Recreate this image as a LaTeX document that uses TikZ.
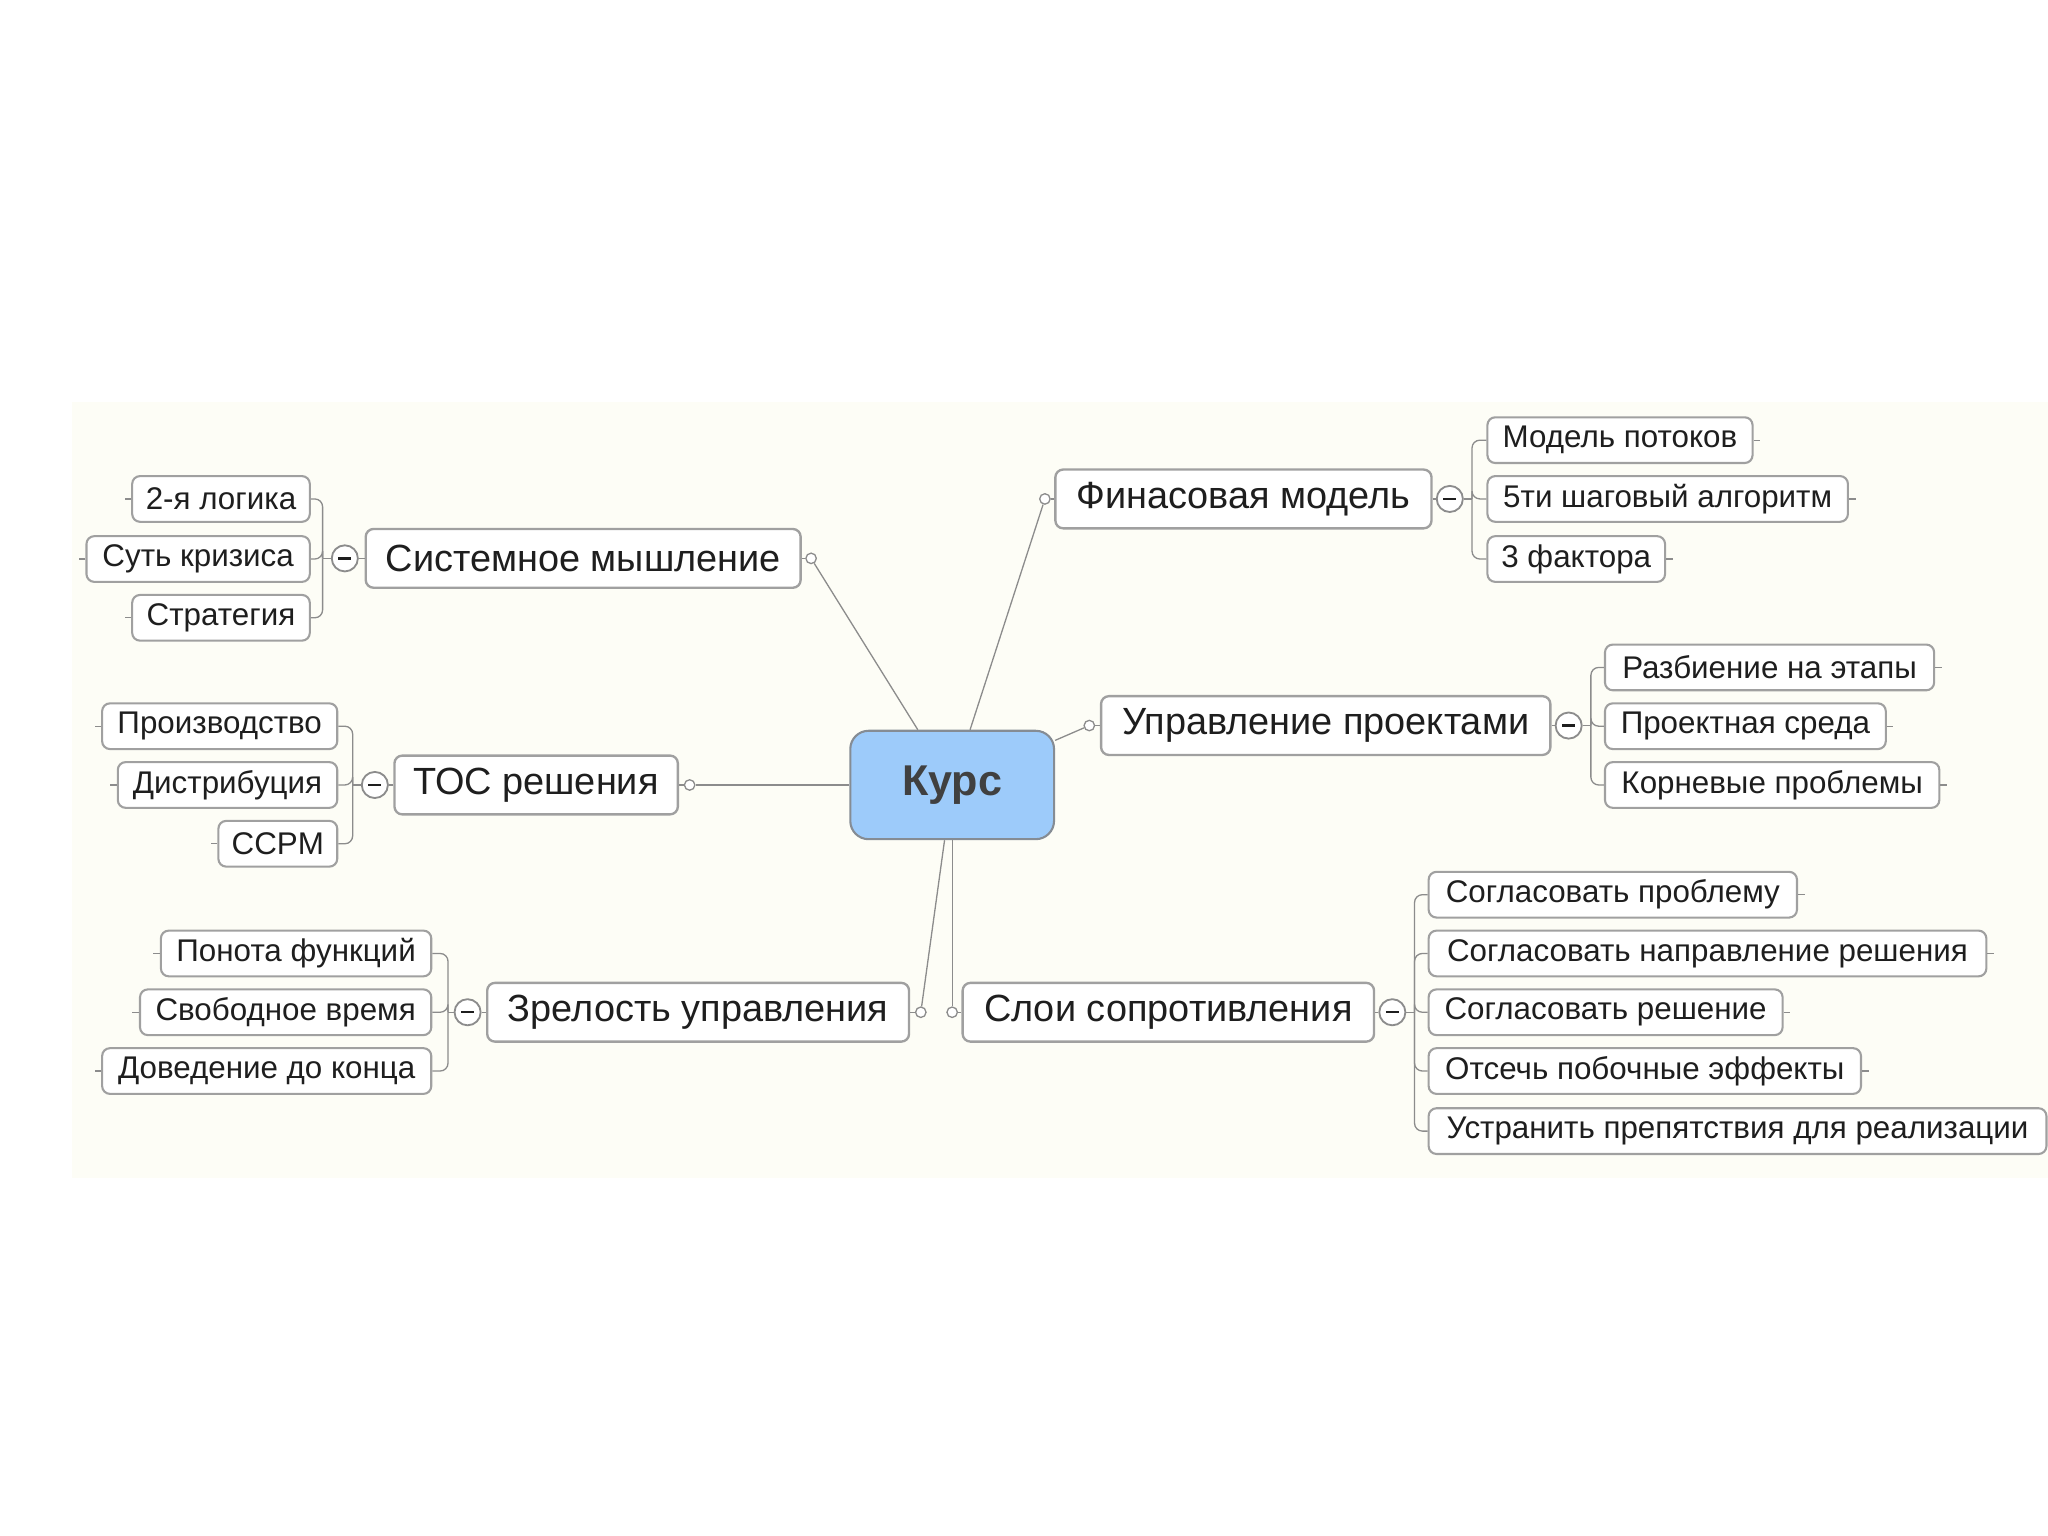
\documentclass[tikz,border=0pt]{standalone}
\usepackage{fontspec}
\setmainfont{Liberation Sans}
\usepackage{xcolor}

\definecolor{bgcream}{HTML}{FDFDF6}
\definecolor{rootblue}{HTML}{9DCBFA}
\definecolor{rootline}{HTML}{858C94}
\definecolor{boxline}{HTML}{A0A0A0}
\definecolor{linkgray}{HTML}{8C8C8C}
\definecolor{txt}{HTML}{1E1E1E}

\tikzset{
  topic/.style={draw=boxline, fill=white, rounded corners=3pt, line width=0.9pt,
    minimum height=22.5pt, inner xsep=2pt, inner ysep=0pt, text=txt,
    font=\fontsize{14.5}{16}\selectfont},
  subtopic/.style={topic, minimum height=17.5pt, line width=0.8pt,
    font=\fontsize{12}{14}\selectfont},
  root/.style={draw=rootline, fill=rootblue, rounded corners=7pt, line width=0.8pt,
    minimum width=78pt, minimum height=41.5pt, text=txt!85,
    font=\fontsize{16.5}{18}\selectfont\bfseries},
  link/.style={draw=linkgray, line width=0.5pt},
  knob/.style={circle, draw=linkgray, fill=white, line width=0.5pt,
    inner sep=0pt, minimum size=4pt},
  fold/.style={circle, draw=linkgray, fill=white, line width=0.7pt,
    inner sep=0pt, minimum size=10pt,
    path picture={\draw[txt, line width=0.9pt]
      ([xshift=-2.5pt]path picture bounding box.center) --
      ([xshift=2.5pt]path picture bounding box.center);}}
}

\begin{document}
\begin{tikzpicture}[x=0.5pt, y=-0.5pt]
    % фон
    \useasboundingbox (0,0) rectangle (1568,1176);
    \fill[bgcream] (55,308) rectangle (1568,902);

    % центральный узел
    \node[root] (kurs) at (729,601) {Курс};

    % главные ветви
    \node[topic, minimum width=166.5pt] (sys)  at (446.5,427.5) {Системное мышление};
    \node[topic, minimum width=108.5pt] (toc)  at (410.5,601)   {ТОС решения};
    \node[topic, minimum width=161.5pt] (zrel) at (534.5,775)   {Зрелость управления};
    \node[topic, minimum width=144pt]   (fin)  at (952,382)     {Финасовая модель};
    \node[topic, minimum width=172pt]   (upr)  at (1015,555.5)  {Управление проектами};
    \node[topic, minimum width=157.5pt] (sloi) at (894.5,775)   {Слои сопротивления};

    % кружки на концах связей
    \node[knob] (sysk)  at (621,427.5) {};
    \node[knob] (tock)  at (528,601)   {};
    \node[knob] (zrelk) at (705,775)   {};
    \node[knob] (fink)  at (800,382)   {};
    \node[knob] (uprk)  at (834,555.5) {};
    \node[knob] (sloik) at (729,775)   {};

    % значки сворачивания
    \node[fold] (sysf)  at (264,427.5) {};
    \node[fold] (tocf)  at (287,601)   {};
    \node[fold] (zrelf) at (358,775)   {};
    \node[fold] (finf)  at (1110,382)  {};
    \node[fold] (uprf)  at (1201,555.5) {};
    \node[fold] (sloif) at (1066,775)  {};

    % точки скобок
    \coordinate (sysb)  at (247,427.5);
    \coordinate (tocb)  at (270,601);
    \coordinate (zrelb) at (343,775);
    \coordinate (finb)  at (1127,382);
    \coordinate (uprb)  at (1218,555.5);
    \coordinate (sloib) at (1083,775);

    % подтемы слева
    \node[subtopic, anchor=east, minimum width=68pt]    (sys1) at (238,382) {2-я логика};
    \node[subtopic, anchor=east, minimum width=85.5pt]  (sys2) at (238,428) {Суть кризиса};
    \node[subtopic, anchor=east, minimum width=68pt]    (sys3) at (238,473) {Стратегия};

    \node[subtopic, anchor=east, minimum width=90pt]    (toc1) at (259,556) {Производство};
    \node[subtopic, anchor=east, minimum width=84pt]    (toc2) at (259,601) {Дистрибуция};
    \node[subtopic, anchor=east, minimum width=45.5pt]  (toc3) at (259,646) {CCPM};

    \node[subtopic, anchor=east, minimum width=103.5pt] (zrel1) at (331,730) {Понота функций};
    \node[subtopic, anchor=east, minimum width=111.5pt] (zrel2) at (331,775) {Свободное время};
    \node[subtopic, anchor=east, minimum width=126pt]   (zrel3) at (331,820) {Доведение до конца};

    % подтемы справа
    \node[subtopic, anchor=west, minimum width=101.5pt] (fin1) at (1138,337) {Модель потоков};
    \node[subtopic, anchor=west, minimum width=138pt]   (fin2) at (1138,382) {5ти шаговый алгоритм};
    \node[subtopic, anchor=west, minimum width=68pt]    (fin3) at (1138,428) {3 фактора};

    \node[subtopic, anchor=west, minimum width=126pt]   (upr1) at (1228,511) {Разбиение на этапы};
    \node[subtopic, anchor=west, minimum width=107.5pt] (upr2) at (1228,556) {Проектная среда};
    \node[subtopic, anchor=west, minimum width=128pt]   (upr3) at (1228,601) {Корневые проблемы};

    \node[subtopic, anchor=west, minimum width=141pt]   (sloi1) at (1093,685) {Согласовать проблему};
    \node[subtopic, anchor=west, minimum width=213.5pt] (sloi2) at (1093,730) {Согласовать направление решения};
    \node[subtopic, anchor=west, minimum width=135.5pt] (sloi3) at (1093,775) {Согласовать решение};
    \node[subtopic, anchor=west, minimum width=165.5pt] (sloi4) at (1093,820) {Отсечь побочные эффекты};
    \node[subtopic, anchor=west, minimum width=236.5pt] (sloi5) at (1093,866) {Устранить препятствия для реализации};

    % связи от центра
    \draw[link] (kurs) -- (sysk);
    \draw[link] (kurs) -- (tock);
    \draw[link] (kurs) -- (zrelk);
    \draw[link] (kurs) -- (fink);
    \draw[link] (kurs) -- (uprk);
    \draw[link] (kurs) -- (sloik);

    % кружки к ветвям
    \draw[link] (sysk) -- (sys);
    \draw[link] (tock) -- (toc);
    \draw[link] (zrelk) -- (zrel);
    \draw[link] (fink) -- (fin);
    \draw[link] (uprk) -- (upr);
    \draw[link] (sloik) -- (sloi);

    % ветви к значкам и скобкам
    \draw[link] (sys) -- (sysf) -- (sysb);
    \draw[link] (toc) -- (tocf) -- (tocb);
    \draw[link] (zrel) -- (zrelf) -- (zrelb);
    \draw[link] (fin) -- (finf) -- (finb);
    \draw[link] (upr) -- (uprf) -- (uprb);
    \draw[link] (sloi) -- (sloif) -- (sloib);

    % скобки
    \draw[link, rounded corners=3pt] (sysb) |- (sys1.east);
    \draw[link, rounded corners=3pt] (sysb) |- (sys2.east);
    \draw[link, rounded corners=3pt] (sysb) |- (sys3.east);
    \draw[link, rounded corners=3pt] (tocb) |- (toc1.east);
    \draw[link, rounded corners=3pt] (tocb) |- (toc2.east);
    \draw[link, rounded corners=3pt] (tocb) |- (toc3.east);
    \draw[link, rounded corners=3pt] (zrelb) |- (zrel1.east);
    \draw[link, rounded corners=3pt] (zrelb) |- (zrel2.east);
    \draw[link, rounded corners=3pt] (zrelb) |- (zrel3.east);
    \draw[link, rounded corners=3pt] (finb) |- (fin1.west);
    \draw[link, rounded corners=3pt] (finb) |- (fin2.west);
    \draw[link, rounded corners=3pt] (finb) |- (fin3.west);
    \draw[link, rounded corners=3pt] (uprb) |- (upr1.west);
    \draw[link, rounded corners=3pt] (uprb) |- (upr2.west);
    \draw[link, rounded corners=3pt] (uprb) |- (upr3.west);
    \draw[link, rounded corners=3pt] (sloib) |- (sloi1.west);
    \draw[link, rounded corners=3pt] (sloib) |- (sloi2.west);
    \draw[link, rounded corners=3pt] (sloib) |- (sloi3.west);
    \draw[link, rounded corners=3pt] (sloib) |- (sloi4.west);
    \draw[link, rounded corners=3pt] (sloib) |- (sloi5.west);

    % короткие хвостики
    \draw[link] (sys1.west) -- ++(-5,0);
    \draw[link] (sys2.west) -- ++(-5,0);
    \draw[link] (sys3.west) -- ++(-5,0);
    \draw[link] (toc1.west) -- ++(-5,0);
    \draw[link] (toc2.west) -- ++(-5,0);
    \draw[link] (toc3.west) -- ++(-5,0);
    \draw[link] (zrel1.west) -- ++(-5,0);
    \draw[link] (zrel2.west) -- ++(-5,0);
    \draw[link] (zrel3.west) -- ++(-5,0);
    \draw[link] (fin1.east) -- ++(5,0);
    \draw[link] (fin2.east) -- ++(5,0);
    \draw[link] (fin3.east) -- ++(5,0);
    \draw[link] (upr1.east) -- ++(5,0);
    \draw[link] (upr2.east) -- ++(5,0);
    \draw[link] (upr3.east) -- ++(5,0);
    \draw[link] (sloi1.east) -- ++(5,0);
    \draw[link] (sloi2.east) -- ++(5,0);
    \draw[link] (sloi3.east) -- ++(5,0);
    \draw[link] (sloi4.east) -- ++(5,0);

\end{tikzpicture}
\end{document}
